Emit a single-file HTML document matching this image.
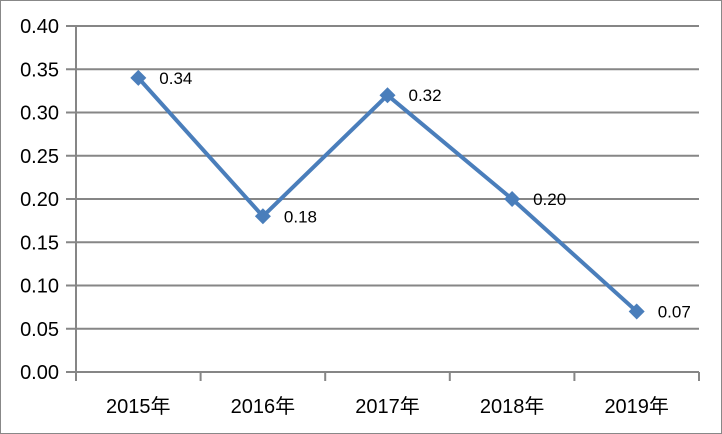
<!DOCTYPE html>
<html><head><meta charset="utf-8"><style>
body{margin:0;background:#fff}
svg{display:block;font-family:"Liberation Sans","Noto Sans CJK SC",sans-serif}
</style></head><body>
<svg id="c" width="722" height="434">
<rect x="0.5" y="0.5" width="721" height="433" fill="#fff" stroke="#888"/>
</svg>
<script>
const categories=["2015年","2016年","2017年","2018年","2019年"];
const values=[0.34,0.18,0.32,0.20,0.07];
const valueLabels=["0.34","0.18","0.32","0.20","0.07"];
const yTicks=[0,0.05,0.10,0.15,0.20,0.25,0.30,0.35,0.40];
const yTickLabels=["0.00","0.05","0.10","0.15","0.20","0.25","0.30","0.35","0.40"];
const NS="http://www.w3.org/2000/svg",svg=document.getElementById('c');
const X0=76,X1=699,Y0=372,Y1=26,YMAX=0.40;
const bw=(X1-X0)/categories.length;
const y=v=>Y0-(v/YMAX)*(Y0-Y1);
const x=i=>X0+bw*(i+0.5);
function mk(t,a){const e=document.createElementNS(NS,t);for(const k in a)e.setAttribute(k,a[k]);svg.appendChild(e);return e;}
yTicks.forEach((v,i)=>{
 const g=mk('line',{x1:66,x2:X1,y1:y(v),y2:y(v),stroke:'#868686','stroke-width':2});
 
 
 const t=mk('text',{x:59,y:y(v)+7,'text-anchor':'end','font-size':20,fill:'#000'});
 t.textContent=yTickLabels[i];
 
 
});
const ya=mk('line',{x1:X0,x2:X0,y1:Y1,y2:Y0+9,stroke:'#868686','stroke-width':2});


for(let i=1;i<=categories.length;i++){
 const tk=mk('line',{x1:X0+bw*i,x2:X0+bw*i,y1:Y0,y2:Y0+9,stroke:'#868686','stroke-width':2});
 
 
}
categories.forEach((c,i)=>{
 const t=mk('text',{x:x(i),y:413,'text-anchor':'middle','font-size':20,fill:'#000'});
 t.textContent=c;
 
 
});
const pl=mk('polyline',{points:values.map((v,i)=>x(i)+','+y(v)).join(' '),fill:'none',stroke:'#4a7ebb','stroke-width':4,'stroke-linejoin':'round'});


values.forEach((v,i)=>{
 const cx=x(i),cy=y(v);
 const m=mk('polygon',{points:`${cx},${cy-8} ${cx+8},${cy} ${cx},${cy+8} ${cx-8},${cy}`,fill:'#4a7ebb'});
 
 
 const t=mk('text',{x:cx+21,y:cy+6,'font-size':17,fill:'#000'});
 t.textContent=valueLabels[i];
 
 
});
</script>
</body></html>
